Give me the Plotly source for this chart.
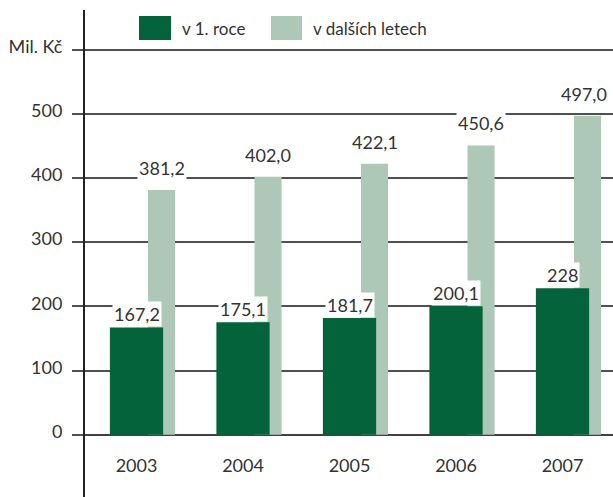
import plotly.graph_objects as go

years = ["2003", "2004", "2005", "2006", "2007"]
first_year = [167.2, 175.1, 181.7, 200.1, 228]
later_years = [381.2, 402.0, 422.1, 450.6, 497.0]
first_labels = ["167,2", "175,1", "181,7", "200,1", "228"]
later_labels = ["381,2", "402,0", "422,1", "450,6", "497,0"]
series_names = ["v 1. roce", "v dalších letech"]
y_ticks = [0, 100, 200, 300, 400, 500, 600]
y_ticktext = ["0", "100", "200", "300", "400", "500", "Mil. Kč"]

DARK = "#04633A"
LIGHT = "#ADC8B6"
TEXT = "#333333"
GRID = "#505050"
FONT = "Lato"

W, H = 613, 497
ML, MR, MT, MB = 84, 0, 10, 61
PW, PH = W - ML - MR, H - MT - MB

DARK_W, DARK_OFF = 0.5, -0.25
LIGHT_W, LIGHT_OFF = 0.254, 0.108


def px_x(px):
    return (px - ML) / PW


def px_y(py):
    return (H - MB - py) / PH


fig = go.Figure()
fig.add_trace(go.Bar(
    x=years, y=later_years, name=series_names[1], marker_color=LIGHT,
    width=LIGHT_W, offset=LIGHT_OFF, marker_line_width=0,
))
fig.add_trace(go.Bar(
    x=years, y=first_year, name=series_names[0], marker_color=DARK,
    width=DARK_W, offset=DARK_OFF, marker_line_width=0,
))

for i, (v, t) in enumerate(zip(first_year, first_labels)):
    fig.add_annotation(
        x=i + DARK_OFF + DARK_W / 2, y=v, text=t, showarrow=False,
        yanchor="bottom", bgcolor="white", borderpad=1,
        font=dict(family=FONT, size=18, color=TEXT),
    )
for i, (v, t) in enumerate(zip(later_years, later_labels)):
    last = i == len(later_years) - 1
    fig.add_annotation(
        x=i + LIGHT_OFF + LIGHT_W / 2, y=v, text=t, showarrow=False,
        yanchor="bottom", yshift=9, xshift=-4 if last else 0,
        bgcolor="white", borderpad=1,
        font=dict(family=FONT, size=18, color=TEXT),
    )

# legend drawn by hand (large swatches)
for (x0, x1, tx), color, name in zip(
    [(139, 171, 180), (271, 302, 311)], [DARK, LIGHT], series_names
):
    fig.add_shape(type="rect", xref="paper", yref="paper",
                  x0=px_x(x0), x1=px_x(x1), y0=px_y(40), y1=px_y(16),
                  fillcolor=color, line_width=0)
    fig.add_annotation(xref="paper", yref="paper", x=px_x(tx), y=px_y(28),
                       text=name, showarrow=False,
                       xanchor="left", yanchor="middle",
                       font=dict(family=FONT, size=17, color=TEXT))

# vertical axis line running below the baseline
fig.add_shape(type="line", xref="paper", yref="paper",
              x0=0, x1=0, y0=px_y(497), y1=px_y(10),
              line=dict(color="#222222", width=2))

fig.update_layout(
    width=W, height=H,
    margin=dict(l=ML, r=MR, t=MT, b=MB),
    paper_bgcolor="white", plot_bgcolor="white",
    barmode="overlay", showlegend=False,
    font=dict(family=FONT, size=18, color=TEXT),
)
fig.update_xaxes(
    type="category", range=[-0.493, 4.474],
    showgrid=False, zeroline=False, showline=False,
    ticks="outside", ticklen=13, tickcolor="rgba(0,0,0,0)",
    tickfont=dict(family=FONT, size=18, color=TEXT),
)
fig.update_yaxes(
    range=[-2, 661.6], tickvals=y_ticks, ticktext=y_ticktext,
    showgrid=True, gridcolor=GRID, gridwidth=1.5,
    zeroline=True, zerolinecolor="#404040", zerolinewidth=2,
    ticks="outside", ticklen=11, tickcolor=GRID, tickwidth=1.5,
    ticklabelstandoff=6, ticklabelshift=-3,
    tickfont=dict(family=FONT, size=18, color=TEXT),
    showline=False,
)

# the page's default body margin would push the fixed-size chart off the window
fig.write_html("out.html", config={"displayModeBar": False},
               post_script="document.body.style.margin='0';")
